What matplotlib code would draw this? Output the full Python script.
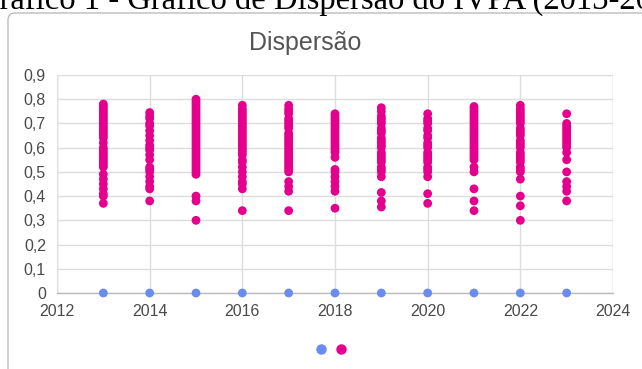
import matplotlib.pyplot as plt
from matplotlib.patches import FancyBboxPatch

# IVPA values per year (pink series) and the zero baseline series (blue)
years = [2013, 2014, 2015, 2016, 2017, 2018, 2019, 2020, 2021, 2022, 2023]
ivpa = {
    2013: [0.78, 0.77, 0.76, 0.75, 0.74, 0.73, 0.72, 0.71, 0.70, 0.69, 0.68, 0.67,
           0.66, 0.65, 0.64, 0.62, 0.60, 0.59, 0.58, 0.57, 0.56, 0.55, 0.54, 0.53,
           0.52, 0.49, 0.47, 0.45, 0.43, 0.41, 0.40, 0.37],
    2014: [0.745, 0.73, 0.72, 0.70, 0.69, 0.67, 0.65, 0.63, 0.61, 0.60, 0.59, 0.57,
           0.55, 0.52, 0.51, 0.50, 0.48, 0.46, 0.44, 0.43, 0.38],
    2015: [0.80, 0.79, 0.78, 0.77, 0.76, 0.75, 0.74, 0.73, 0.72, 0.71, 0.70, 0.69,
           0.68, 0.67, 0.66, 0.65, 0.64, 0.63, 0.62, 0.61, 0.60, 0.59, 0.58, 0.57,
           0.56, 0.55, 0.54, 0.53, 0.52, 0.51, 0.50, 0.49, 0.40, 0.38, 0.30],
    2016: [0.775, 0.76, 0.75, 0.74, 0.73, 0.72, 0.71, 0.70, 0.69, 0.68, 0.67, 0.66,
           0.65, 0.64, 0.63, 0.62, 0.61, 0.60, 0.59, 0.58, 0.57, 0.55, 0.54, 0.52,
           0.50, 0.48, 0.46, 0.45, 0.43, 0.34],
    2017: [0.775, 0.76, 0.75, 0.74, 0.72, 0.71, 0.70, 0.69, 0.68, 0.66, 0.65, 0.64,
           0.63, 0.62, 0.61, 0.60, 0.59, 0.58, 0.57, 0.56, 0.55, 0.54, 0.53, 0.52,
           0.51, 0.50, 0.46, 0.44, 0.42, 0.34],
    2018: [0.74, 0.73, 0.72, 0.71, 0.70, 0.69, 0.68, 0.67, 0.66, 0.65, 0.64, 0.63,
           0.62, 0.61, 0.60, 0.59, 0.58, 0.56, 0.51, 0.50, 0.48, 0.46, 0.44, 0.42,
           0.35],
    2019: [0.765, 0.75, 0.73, 0.72, 0.71, 0.70, 0.68, 0.67, 0.66, 0.64, 0.63, 0.62,
           0.61, 0.60, 0.58, 0.57, 0.56, 0.55, 0.54, 0.52, 0.51, 0.50, 0.48, 0.415,
           0.38, 0.355],
    2020: [0.74, 0.72, 0.71, 0.70, 0.68, 0.67, 0.65, 0.64, 0.62, 0.61, 0.60, 0.58,
           0.57, 0.56, 0.55, 0.54, 0.52, 0.51, 0.50, 0.48, 0.41, 0.37],
    2021: [0.77, 0.76, 0.75, 0.74, 0.73, 0.72, 0.71, 0.70, 0.69, 0.68, 0.67, 0.66,
           0.65, 0.64, 0.63, 0.62, 0.61, 0.60, 0.59, 0.58, 0.57, 0.56, 0.55, 0.52,
           0.50, 0.43, 0.38, 0.34],
    2022: [0.775, 0.76, 0.75, 0.74, 0.73, 0.72, 0.71, 0.70, 0.68, 0.67, 0.66, 0.65,
           0.63, 0.62, 0.61, 0.60, 0.58, 0.57, 0.56, 0.55, 0.54, 0.52, 0.51, 0.50,
           0.47, 0.40, 0.36, 0.30],
    2023: [0.74, 0.70, 0.69, 0.68, 0.67, 0.66, 0.65, 0.64, 0.63, 0.62, 0.61, 0.60,
           0.58, 0.55, 0.50, 0.46, 0.44, 0.42, 0.38],
}
baseline = [0, 0, 0, 0, 0, 0, 0, 0, 0, 0, 0]

x_ticks = [2012, 2014, 2016, 2018, 2020, 2022, 2024]
y_ticks = [0, 0.1, 0.2, 0.3, 0.4, 0.5, 0.6, 0.7, 0.8, 0.9]
y_labels = ["0", "0,1", "0,2", "0,3", "0,4", "0,5", "0,6", "0,7", "0,8", "0,9"]

blue = "#6a8bef"
pink = "#e4008c"
text_grey = "#4a4a4a"

plt.rcParams["font.family"] = ["Liberation Sans", "DejaVu Sans"]

fig = plt.figure(figsize=(6.42, 3.69), dpi=100)

# caption above the chart box (only its lower part shows)
fig.text(-24 / 642, 1 - 9 / 369, "Gráfico 1 - Gráfico de Dispersão do IVPA (2013-2023)",
         family="Liberation Serif", fontsize=23.5, color="black",
         ha="left", va="baseline")

# rounded chart frame, left and top edges (inch units)
frame = FancyBboxPatch(
    (0.08, -1.0), 8.0, 3.69 - 0.13 + 1.0,
    boxstyle="round,pad=0,rounding_size=0.07", transform=fig.dpi_scale_trans,
    facecolor="white", edgecolor="#b5b5b5", linewidth=0.9, zorder=-5)
fig.patches.append(frame)

ax = fig.add_axes([57 / 642, 76 / 369, 556 / 642, 218 / 369])
ax.set_facecolor("none")

for yr in years:
    ax.scatter([yr] * len(ivpa[yr]), ivpa[yr], s=40, color=pink,
               edgecolors="none", zorder=3, clip_on=False)
ax.scatter(years, baseline, s=40, color=blue, edgecolors="none", zorder=4,
           clip_on=False)

ax.set_xlim(2012, 2024)
ax.set_ylim(0, 0.9)
ax.set_xticks(x_ticks)
ax.set_yticks(y_ticks)
ax.set_yticklabels(y_labels)
ax.tick_params(length=0, labelsize=11.5, labelcolor=text_grey, pad=8)
ax.tick_params(axis="x", pad=8)
ax.grid(True, color="#dddddd", linewidth=1)
for side in ["top", "right", "left"]:
    ax.spines[side].set_visible(False)
ax.spines["bottom"].set_color("#bbbbbb")
ax.spines["bottom"].set_linewidth(1)
ax.axvline(2024, color="#dddddd", linewidth=1)
ax.axvline(2012, color="#dddddd", linewidth=1)

fig.text(305 / 642, 1 - 43 / 369, "Dispersão", fontsize=18, color="#555555",
         ha="center", va="center")

# legend markers without labels
fig.add_artist(plt.Line2D([321 / 642], [1 - 349 / 369], marker="o", markersize=6.5,
                          color=blue, linestyle="none"))
fig.add_artist(plt.Line2D([341 / 642], [1 - 349 / 369], marker="o", markersize=6.5,
                          color=pink, linestyle="none"))

fig.savefig("out.png", dpi=100)
